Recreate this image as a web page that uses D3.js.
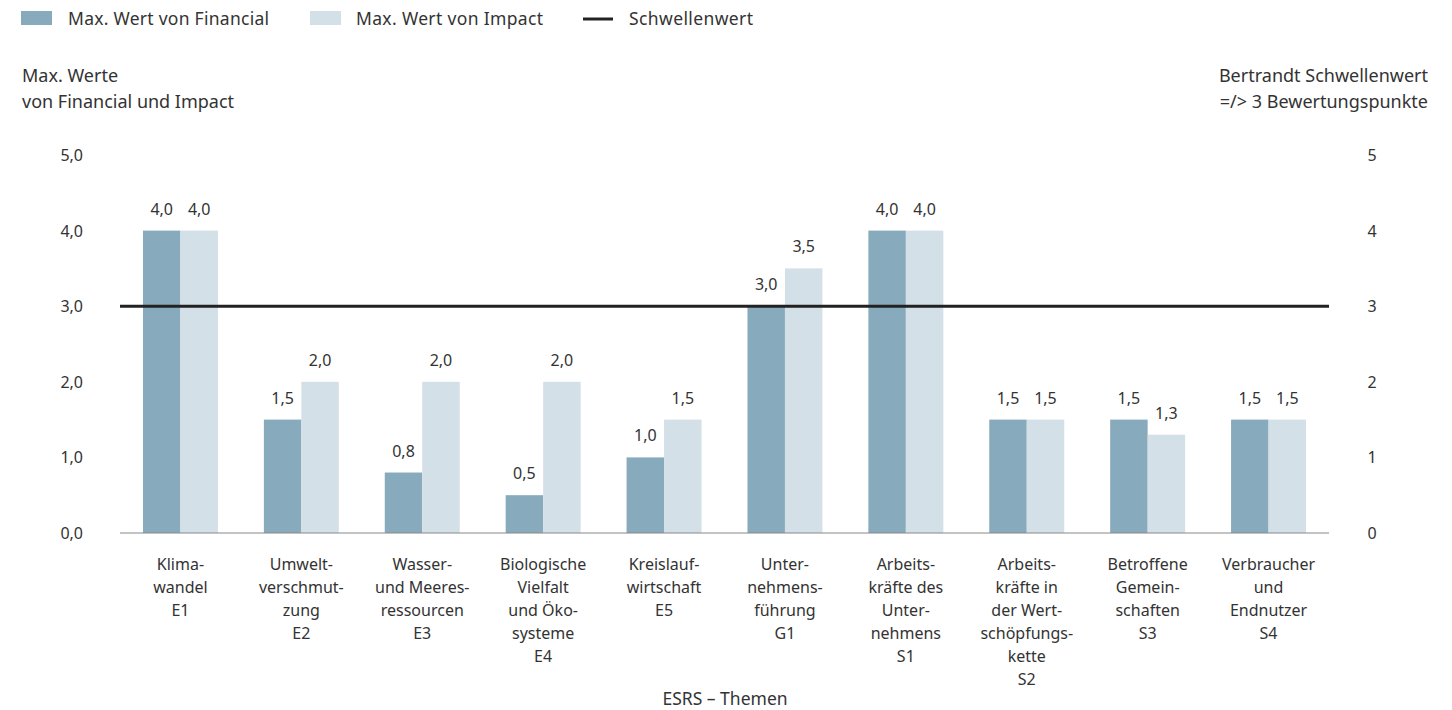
<!DOCTYPE html>
<html>
<head>
<meta charset="utf-8">
<script src="https://cdn.jsdelivr.net/npm/d3@7"></script>
<style>
  body { margin: 0; background: #fff; }
  text { font-family: "Noto Sans", "Open Sans", sans-serif; fill: #333; }
</style>
</head>
<body>
<svg width="1452" height="710"></svg>
<script>
// category labels (line breaks as in the original)
const categories = [
  ["Klima-", "wandel", "E1"],
  ["Umwelt-", "verschmut-", "zung", "E2"],
  ["Wasser-", "und Meeres-", "ressourcen", "E3"],
  ["Biologische", "Vielfalt", "und Öko-", "systeme", "E4"],
  ["Kreislauf-", "wirtschaft", "E5"],
  ["Unter-", "nehmens-", "führung", "G1"],
  ["Arbeits-", "kräfte des", "Unter-", "nehmens", "S1"],
  ["Arbeits-", "kräfte in", "der Wert-", "schöpfungs-", "kette", "S2"],
  ["Betroffene", "Gemein-", "schaften", "S3"],
  ["Verbraucher", "und", "Endnutzer", "S4"]
];
const financial = [4.0, 1.5, 0.8, 0.5, 1.0, 3.0, 4.0, 1.5, 1.5, 1.5];
const impact    = [4.0, 2.0, 2.0, 2.0, 1.5, 3.5, 4.0, 1.5, 1.3, 1.5];
const threshold = 3;
const leftTicks = [0, 1, 2, 3, 4, 5];
const rightTicks = [0, 1, 2, 3, 4, 5];

const colFin = "#87aabc";
const colImp = "#d4e0e7";

const $svg = d3.select("svg");
const fmt = (v) => d3.format(".1f")(v).replace(".", ",");

const x = d3.scaleBand()
  .domain(d3.range(categories.length))
  .range([120, 1329])
  .paddingInner(0.38)
  .paddingOuter(0.19);
const sub = d3.scaleBand().domain(["f", "i"]).range([0, x.bandwidth()]);
const y = d3.scaleLinear().domain([0, 5]).range([533, 155]);

// legend
const legend = $svg.append("g").attr("class", "legend");
const legendText = (px, txt, w) => legend.append("text")
  .attr("x", px).attr("y", 25).attr("font-size", 17.5)
  .attr("textLength", w).attr("lengthAdjust", "spacing")
  .text(txt);
legend.append("rect").attr("x", 21).attr("y", 11).attr("width", 31).attr("height", 14).attr("fill", colFin);
legendText(68, "Max. Wert von Financial", 201);
legend.append("rect").attr("x", 310).attr("y", 11).attr("width", 31).attr("height", 14).attr("fill", colImp);
legendText(356, "Max. Wert von Impact", 187);
legend.append("line").attr("x1", 583).attr("x2", 613).attr("y1", 19).attr("y2", 19)
  .attr("stroke", "#222").attr("stroke-width", 3);
legendText(629, "Schwellenwert", 124);

// axis titles
$svg.append("text").attr("x", 22).attr("y", 82).attr("font-size", 18).text("Max. Werte");
$svg.append("text").attr("x", 22).attr("y", 108).attr("font-size", 18).text("von Financial und Impact");
$svg.append("text").attr("x", 1428).attr("y", 82).attr("font-size", 18).attr("text-anchor", "end").text("Bertrandt Schwellenwert");
$svg.append("text").attr("x", 1428).attr("y", 108).attr("font-size", 18).attr("text-anchor", "end").text("=/> 3 Bewertungspunkte");

// left ticks
$svg.append("g").selectAll("text").data(leftTicks).join("text")
  .attr("x", 83).attr("y", (d) => y(d) + 6)
  .attr("text-anchor", "end").attr("font-size", 16)
  .text((d) => fmt(d));

// right ticks
$svg.append("g").selectAll("text").data(rightTicks).join("text")
  .attr("x", 1372).attr("y", (d) => y(d) + 6)
  .attr("text-anchor", "middle").attr("font-size", 16)
  .text((d) => d);

// bars
const groups = $svg.append("g").selectAll("g").data(categories).join("g")
  .attr("transform", (d, i) => `translate(${x(i)},0)`);

groups.append("rect")
  .attr("x", sub("f")).attr("width", sub.bandwidth())
  .attr("y", (d, i) => y(financial[i])).attr("height", (d, i) => y(0) - y(financial[i]))
  .attr("fill", colFin);
groups.append("rect")
  .attr("x", sub("i")).attr("width", sub.bandwidth())
  .attr("y", (d, i) => y(impact[i])).attr("height", (d, i) => y(0) - y(impact[i]))
  .attr("fill", colImp);

// value labels
groups.append("text")
  .attr("x", sub("f") + sub.bandwidth() / 2)
  .attr("y", (d, i) => y(financial[i]) - 16)
  .attr("text-anchor", "middle").attr("font-size", 16)
  .text((d, i) => fmt(financial[i]));
groups.append("text")
  .attr("x", sub("i") + sub.bandwidth() / 2)
  .attr("y", (d, i) => y(impact[i]) - 16)
  .attr("text-anchor", "middle").attr("font-size", 16)
  .text((d, i) => fmt(impact[i]));

// category labels
groups.append("text")
  .attr("text-anchor", "middle").attr("font-size", 16)
  .selectAll("tspan").data((d) => d).join("tspan")
  .attr("x", x.bandwidth() / 2)
  .attr("y", (d, j) => 570 + j * 23)
  .text((d) => d);

// baseline
$svg.append("line").attr("x1", 120).attr("x2", 1329).attr("y1", y(0)).attr("y2", y(0))
  .attr("stroke", "#888").attr("stroke-width", 1);

// threshold
$svg.append("line").attr("x1", 120).attr("x2", 1329).attr("y1", y(threshold)).attr("y2", y(threshold))
  .attr("stroke", "#222").attr("stroke-width", 3);

// x axis title
$svg.append("text").attr("x", 725).attr("y", 705).attr("text-anchor", "middle").attr("font-size", 17.5)
  .text("ESRS – Themen");
</script>
</body>
</html>
